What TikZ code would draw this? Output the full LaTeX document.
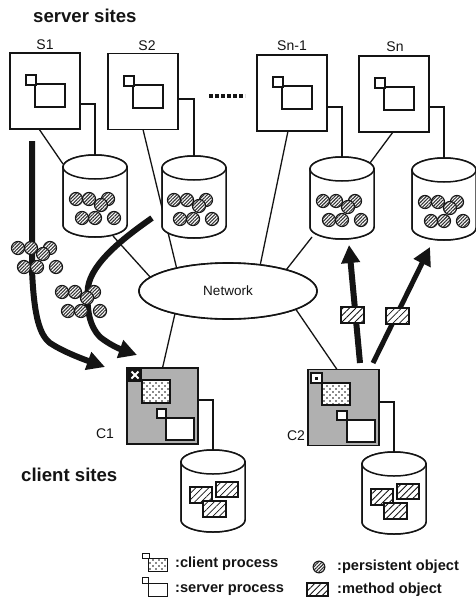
\documentclass[tikz,border=0pt]{standalone}
\usepackage{fontspec}
\setmainfont{Liberation Sans}
\usetikzlibrary{arrows.meta,shapes.geometric,patterns.meta,positioning}
\definecolor{ink}{gray}{0.08}
\tikzset{
  conn/.style={draw=ink,line width=1.3pt},
  sitebox/.style={draw=ink,line width=1.6pt,fill=white,rectangle,inner sep=0pt,outer sep=0pt,minimum width=70pt,minimum height=76pt},
  clientbox/.style={draw=ink,line width=1.6pt,fill=gray!62,rectangle,inner sep=0pt,outer sep=0pt,minimum width=71pt,minimum height=76pt},
  procline/.style={draw=ink,line width=1.2pt,fill=white},
  ball/.style={draw=ink,line width=1.2pt,fill=white,postaction={pattern={Lines[angle=45,distance=2.4pt,line width=1.1pt]},pattern color=gray!40!black}},
  meth/.style={draw=ink,line width=1.2pt,fill=white,postaction={pattern={Lines[angle=45,distance=4.6pt,line width=.8pt]},pattern color=ink}},
  dotbox/.style={draw=ink,line width=1.8pt,fill=white,postaction={pattern={Dots[distance=6pt,radius=.9pt]},pattern color=ink},postaction={pattern={Dots[distance=6pt,radius=.9pt,xshift=3pt,yshift=3pt]},pattern color=ink}},
  thick arrow/.style={draw=ink,line width=6pt,-{Triangle[length=18pt,width=18pt]}},
  lbl/.style={font=\fontsize{14}{16}\selectfont,text=ink,inner sep=0pt},
  head/.style={font=\bfseries\fontsize{18.6}{22}\selectfont,text=ink,inner sep=0pt,anchor=west},
  legend/.style={font=\bfseries\fontsize{14.6}{17}\selectfont,text=ink,inner sep=0pt,anchor=west},
  netshape/.style={draw=ink,line width=1.6pt,fill=white,ellipse,inner sep=0pt,outer sep=0pt,minimum width=178pt,minimum height=56pt,font=\fontsize{13.5}{15}\selectfont,text=ink},
}
\newcommand{\dbcyl}[3]{%
  \begin{scope}[shift={(#2,#3)}]
    \path[draw=ink,line width=1.5pt,fill=white] (-32,12) -- (-32,70) arc[start angle=180,end angle=360,x radius=32pt,y radius=12pt] -- (32,12) -- cycle;
    \path[draw=ink,line width=1.5pt,fill=white] (0,12) ellipse[x radius=32pt,y radius=12pt];
    \node[rectangle,inner sep=0pt,outer sep=0pt,minimum width=64pt,minimum height=82pt] (#1) at (0,41) {};
  \end{scope}}
\newcommand{\ballset}[2]{%
  \begin{scope}[shift={(#1,#2)}]
    \foreach \bx/\by in {0/0,13/0,32/0,25/6,6/19,19/19,38/19}
      \path[ball] (\bx,\by) circle[radius=6.5pt];
  \end{scope}}
\newcommand{\methset}[2]{%
  \begin{scope}[shift={(#1,#2)}]
    \path[meth] (0,5) rectangle (22,21);
    \path[meth] (26,0) rectangle (48,15);
    \path[meth] (13,19) rectangle (36,35);
  \end{scope}}
\newcommand{\srvproc}[2]{%
  \begin{scope}[shift={(#1,#2)}]
    \path[procline] (9,9) rectangle (39,32);
    \path[procline] (0,0) rectangle (10,10);
  \end{scope}}
\begin{document}
\begin{tikzpicture}[x=1pt,y=-1pt]
\useasboundingbox (0,0) rectangle (475,599);
\path[fill=white] (0,0) rectangle (475,599);
% site boxes
\node[sitebox] (s1) at (45,91) {};
\node[sitebox] (s2) at (143,91.5) {};
\node[sitebox] (s3) at (292,93) {};
\node[sitebox] (s4) at (394,94) {};
\node[clientbox] (c1) at (162.5,406) {};
\node[clientbox] (c2) at (343.5,407.5) {};
\node[netshape] (net) at (228,291) {Network};
% anchors of the cylinders
\dbcyl{db1}{95}{155}
\dbcyl{db2}{194}{156}
\dbcyl{db3}{342}{157}
\dbcyl{db4}{444}{158}
\dbcyl{db5}{213}{450}
\dbcyl{db6}{394}{452}
% connectors
\draw[conn] ([xshift=29pt]s1.south west) -- ([yshift=32pt]db1.west);
\draw[conn] ([yshift=-13pt]s1.east) -| (db1.north);
\draw[conn] ([xshift=35pt]s2.south west) -- (net.156);
\draw[conn] ([yshift=-7.5pt]s2.east) -| (db2.north);
\draw[conn] ([xshift=31pt]s3.south west) -- (net.39);
\draw[conn] ([yshift=-14pt]s3.east) -| (db3.north);
\draw[conn] ([xshift=34pt]s4.south west) -- ([xshift=-4pt,yshift=35pt]db3.east);
\draw[conn] ([yshift=-13pt]s4.east) -| (db4.north);
\draw[conn] ([xshift=18pt,yshift=1pt]db1.south) -- (net.170);
\draw[conn] ([xshift=-30pt,yshift=2pt]db3.south) -- (net.20.7);
\draw[conn] (net.203.6) -- (c1.north);
\draw[conn] (net.-15.4) -- ([xshift=-6.5pt]c2.north);
\draw[conn] ([yshift=6pt]c1.east) -| (db5.north);
\draw[conn] ([yshift=5.5pt]c2.east) -| (db6.north);
% cylinders and network above the connector running behind them
\dbcyl{db1}{95}{155}
\dbcyl{db2}{194}{156}
\dbcyl{db3}{342}{157}
\dbcyl{db4}{444}{158}
\dbcyl{db5}{213}{450}
\dbcyl{db6}{394}{452}
\node[netshape] (net) at (228,291) {Network};
% contents of cylinders
\ballset{76}{199}
\ballset{174}{200}
\ballset{323}{201}
\ballset{425}{202}
\methset{190}{482}
\methset{371}{484}
% server process symbols
\srvproc{26}{75}
\srvproc{124}{76}
\srvproc{273}{77}
\srvproc{375}{78}
% client 1 contents
\path[dotbox] (142,380) rectangle (170,403);
\path[fill=ink] (128,368) rectangle (142,382);
\draw[white,line width=1.8pt] (131.5,371.5) -- (138.5,378.5) (131.5,378.5) -- (138.5,371.5);
\path[procline] (166,418) rectangle (194,440);
\path[procline] (157,409) rectangle (166,418);
% client 2 contents
\path[dotbox] (322,383) rectangle (350,405);
\path[draw=ink,line width=1.8pt,fill=white] (311,373) rectangle (322,383);
\path[fill=ink] (315,376.5) rectangle (318,379.5);
\path[procline] (347,420) rectangle (375,442);
\path[procline] (337,411) rectangle (347,420);
% moving objects
\coordinate (a1s) at (32,141);
\coordinate (a1e) at (105,367);
\coordinate (a2s) at (152,218);
\coordinate (a2e) at (137,355);
\coordinate (a3e) at (349,245);
\coordinate (a4e) at (430,247);
\draw[thick arrow] (a1s) -- (32,270) .. controls (34,318) and (40,335) .. (50,343) .. controls (62,351) and (80,358) .. (a1e);
\draw[thick arrow] (a2s) .. controls (125,237) and (92,262) .. (88,287) .. controls (86,310) and (90,327) .. (100,337) .. controls (110,345) and (120,349) .. (a2e);
\draw[thick arrow] ([xshift=16.5pt,yshift=6.5pt]c2.north) -- (a3e);
\draw[thick arrow,line width=5pt] ([xshift=29.5pt,yshift=6.5pt]c2.north) -- (a4e);
\ballset{18}{248}
\ballset{62}{292}
\path[meth] (341,307) rectangle (364,323);
\path[meth] (386,308) rectangle (409,324);
% dots
\draw[ink,line width=4pt,dash pattern=on 4pt off 2pt] (209,96) -- (245,96);
% labels
\node[head] (hs) at (33,16) {server sites};
\node[head] (hc) at (21,475) {client sites};
\node[lbl] (l1) at (45,45) {S1};
\node[lbl] (l2) at (147,46) {S2};
\node[lbl] (l3) at (292,46) {Sn-1};
\node[lbl] (l4) at (395,47) {Sn};
\node[lbl] (l5) at (105,434) {C1};
\node[lbl] (l6) at (296,436) {C2};
% legend
\path[dotbox,line width=1pt] (148,558) rectangle (167,571);
\path[procline,line width=1pt] (142,553) rectangle (149,558);
\node[legend] (t1) at (175,564) {:client process};
\path[procline,line width=1pt] (148,583) rectangle (167,596);
\path[procline,line width=1pt] (142,577) rectangle (148,583);
\node[legend] (t2) at (175,590) {:server process};
\path[ball] (319,567) circle[radius=5.8pt];
\node[legend] (t3) at (337,567) {:persistent object};
\path[meth] (307,583) rectangle (328,596);
\node[legend] (t4) at (337,590) {:method object};
\end{tikzpicture}
\end{document}
